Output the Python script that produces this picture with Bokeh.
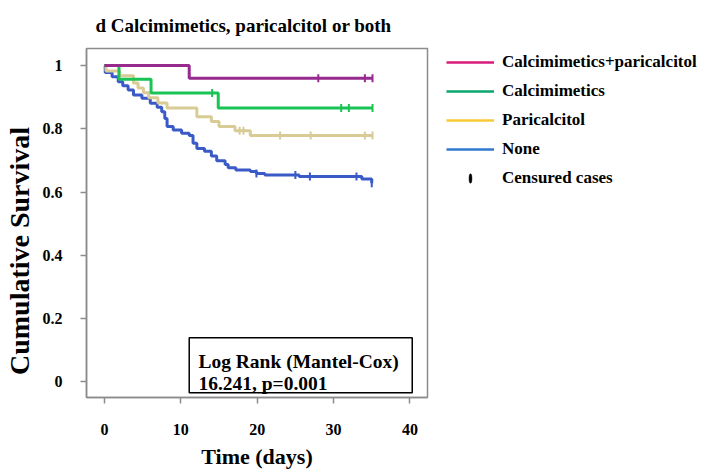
import numpy as np
from bokeh.plotting import figure
from bokeh.models import Range1d, FixedTicker, Legend, LegendItem
from bokeh.core.properties import value
from bokeh.embed import file_html
from bokeh.resources import INLINE

# ---------------- data ----------------
title_text = "d Calcimimetics, paricalcitol or both"
x_label = "Time (days)"
y_label = "Cumulative Survival"
x_ticks = [0, 10, 20, 30, 40]
y_ticks = [0, 0.2, 0.4, 0.6, 0.8, 1]
y_tick_labels = ["0", "0.2", "0.4", "0.6", "0.8", "1"]

legend_names = ["Calcimimetics+paricalcitol", "Calcimimetics", "Paricalcitol", "None"]
censor_label = "Censured cases"

# Calcimimetics + paricalcitol
both_t = [0, 11.1, 35.1]
both_s = [1.0, 0.96, 0.96]
both_cens = [28.0, 34.1, 35.1]

# Calcimimetics
calc_t = [0, 1.9, 6.1, 14.9, 35.1]
calc_s = [1.0, 0.957, 0.913, 0.866, 0.866]
calc_cens = [14.1, 31.0, 32.0, 35.1]

# Paricalcitol
pari_t = [0, 0.2, 2.0, 3.8, 4.4, 5.1, 5.8, 7.0, 8.2, 12.1, 14.0, 15.0, 17.1, 19.1, 35.1]
pari_s = [1.0, 0.983, 0.968, 0.945, 0.929, 0.914, 0.898, 0.882, 0.866, 0.838, 0.823,
          0.807, 0.794, 0.779, 0.779]
pari_cens = [17.7, 18.2, 23.0, 27.0, 34.1, 35.1]

# None
none_t = [0, 0.1, 1.0, 1.8, 2.4, 3.1, 3.8, 4.9, 6.0, 6.9, 7.5, 7.9, 8.2, 9.0, 10.1, 11.1,
          11.6, 12.1, 13.1, 14.0, 14.7, 15.8, 16.2, 17.2, 19.1, 19.9, 21.0, 25.5, 33.7, 35.0]
none_s = [1.0, 0.978, 0.965, 0.949, 0.936, 0.923, 0.907, 0.897, 0.881, 0.868, 0.854, 0.833,
          0.807, 0.796, 0.786, 0.779, 0.754, 0.738, 0.729, 0.714, 0.699, 0.687, 0.677, 0.670,
          0.665, 0.659, 0.654, 0.649, 0.641, 0.628]
none_cens = [19.9, 25.0, 26.9, 33.0, 35.0]

logrank_line1 = "Log Rank (Mantel-Cox)"
logrank_line2 = "16.241, p=0.001"

# ---------------- styles ----------------
curve_colors = ["#982A8E", "#19C454", "#D8CB95", "#3A5BC7"]
legend_colors = ["#D81B7A", "#0AA66E", "#F7C934", "#2F78CF"]
FONT = "Liberation Serif"
GREY = "#8c8c8c"
NBSP = "\u00a0"


def surv_at(t, s, xs):
    t = np.asarray(t)
    s = np.asarray(s)
    idx = np.searchsorted(t, np.asarray(xs), side="right") - 1
    return s[idx]


p = figure(frame_width=341, frame_height=349, output_backend="svg", toolbar_location=None,
           x_range=Range1d(-2.35, 42.3), y_range=Range1d(-0.0497, 1.054),
           min_border_left=84, min_border_right=268, min_border_top=47, min_border_bottom=76)

p.title.text = title_text
p.title.text_font = FONT
p.title.text_font_style = "bold"
p.title.text_font_size = "19px"
p.title.align = "left"
p.title.offset = 9
p.title.standoff = 25
p.title.text_color = "black"

p.grid.visible = False
p.outline_line_color = GREY
p.outline_line_width = 1.5
p.background_fill_color = "white"
p.border_fill_color = "white"

for ax in (p.xaxis[0], p.yaxis[0]):
    ax.axis_line_color = GREY
    ax.axis_line_width = 1.5
    ax.major_tick_line_color = GREY
    ax.major_tick_line_width = 1.5
    ax.major_tick_in = 0
    ax.major_tick_out = 6
    ax.minor_tick_line_color = None
    ax.major_label_text_font = FONT
    ax.major_label_text_font_style = "bold"
    ax.major_label_text_font_size = "16px"
    ax.major_label_text_color = "black"
    ax.axis_label_text_font = FONT
    ax.axis_label_text_font_style = "bold"
    ax.axis_label_text_color = "black"

p.xaxis.ticker = FixedTicker(ticks=x_ticks)
p.yaxis.ticker = FixedTicker(ticks=y_ticks)
p.yaxis.major_label_overrides = {v: lbl for v, lbl in zip(y_ticks, y_tick_labels)}
p.xaxis.axis_label = x_label
# trailing no-break spaces push the rotated label's ink lower, as in the reference
p.yaxis.axis_label = y_label + NBSP * 8
p.xaxis.axis_label_text_font_size = "22px"
p.yaxis.axis_label_text_font_size = "28px"
p.xaxis.major_label_standoff = 20
p.yaxis.major_label_standoff = 18
p.xaxis.axis_label_standoff = 6
p.yaxis.axis_label_standoff = 5

series = [
    (both_t, both_s, both_cens),
    (calc_t, calc_s, calc_cens),
    (pari_t, pari_s, pari_cens),
    (none_t, none_s, none_cens),
]
# draw in order None (back) -> both (front)
for (t, s, cens), col in reversed(list(zip(series, curve_colors))):
    p.step(x=t, y=s, mode="after", line_width=3, line_color=col)
    p.scatter(x=cens, y=surv_at(t, s, cens), marker="dash", angle=np.pi / 2,
              size=8, line_width=2, line_color=col)

# Log rank box
p.quad(left=[11.1], right=[40.3], bottom=[-0.035], top=[0.139],
       fill_color="white", line_color="black", line_width=1.5)
p.text(x=[12.3, 12.3], y=[0.063, -0.005], text=[logrank_line1, logrank_line2],
       text_font=value(FONT), text_font_style="bold", text_font_size="19.5px",
       text_baseline="alphabetic", text_align="left", text_color="black")

# Legend (proxy renderers, not drawn in the frame, carrying the legend colours)
items = []
for name, col in zip(legend_names, legend_colors):
    r = p.line(x=[np.nan, np.nan], y=[np.nan, np.nan], line_color=col, line_width=2.5)
    items.append(LegendItem(label=name, renderers=[r]))
# a thin upright ellipse gives a vertical tick in the legend
rc = p.ellipse(x=[np.nan], y=[np.nan], width=3, height=10, width_units="screen",
               height_units="screen", fill_color="black", line_color="black", line_width=0.5)
items.append(LegendItem(label=censor_label, renderers=[rc]))

legend = Legend(items=items, location=(19, 208))
legend.border_line_color = None
legend.background_fill_alpha = 0
legend.glyph_width = 48
legend.glyph_height = 12
legend.label_height = 22
legend.spacing = 7
legend.padding = 0
legend.margin = 0
legend.label_standoff = 8
legend.label_text_font = FONT
legend.label_text_font_style = "bold"
legend.label_text_font_size = "17px"
legend.label_text_color = "black"
p.add_layout(legend, "right")

open("out.html", "w").write(file_html(p, INLINE))
